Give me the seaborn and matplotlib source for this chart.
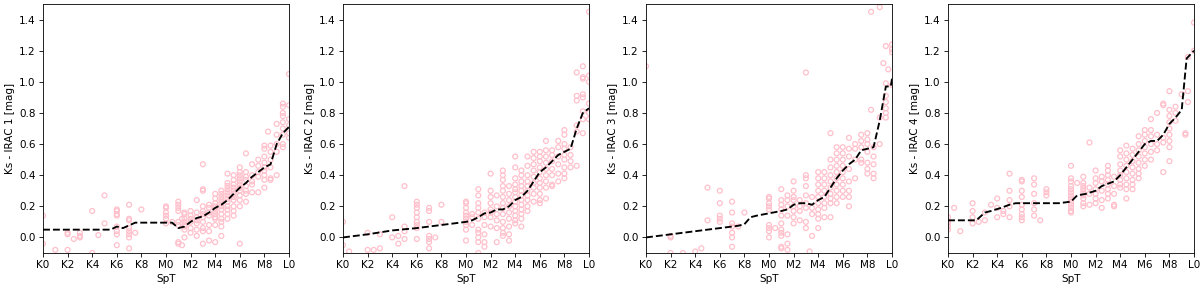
import numpy as np
import pandas as pd
import matplotlib
matplotlib.use('Agg')
import matplotlib.pyplot as plt
import seaborn as sns

# spectral type as number: K0=0 ... K9=9, M0=10 ... M9=19, L0=20
tick_pos = [0, 2, 4, 6, 8, 10, 12, 14, 16, 18, 20]
tick_labels = ['K0', 'K2', 'K4', 'K6', 'K8', 'M0', 'M2', 'M4', 'M6', 'M8', 'L0']
ylabels = ['Ks - IRAC 1 [mag]', 'Ks - IRAC 2 [mag]', 'Ks - IRAC 3 [mag]', 'Ks - IRAC 4 [mag]']

# ---- IRAC 1 ----
irac1_spt = [0, 1, 2, 2.5, 3, 4, 4.5, 5, 6, 7, 7.5, 8, 10, 10.5, 11, 11.3, 11.5, 12, 12.5, 13, 13.5,
             14, 14.5, 15, 15.5, 16, 16.5, 17, 17.5, 18, 18.3, 18.5, 19, 19.5, 20]
irac1_vals = [[0.14, -0.04], [-0.08], [0.03, 0.02, -0.08], [-0.01], [0.03, 0.01, 0.0], [0.17, -0.1], [0.015],
              [0.27, 0.09], [0.18, 0.17, 0.15, 0.14, 0.07, 0.04, 0.02, -0.05],
              [0.21, 0.12, 0.11, 0.06, 0.04, 0.02, 0.0, -0.07], [0.03], [0.18],
              [0.2, 0.19, 0.16, 0.14, 0.12, 0.09], [0.1],
              [0.23, 0.21, 0.19, 0.17, 0.1, 0.08, -0.03, -0.04], [-0.05, 0.12],
              [0.16, 0.15, 0.12, 0.1, 0.08, 0.07, 0.05, 0.0], [0.17, 0.14, 0.12, 0.1, 0.06, 0.03],
              [0.24, 0.16, 0.13, 0.11, 0.09, 0.05, 0.01],
              [0.47, 0.31, 0.3, 0.2, 0.17, 0.15, 0.13, 0.1, 0.06, 0.04, -0.04],
              [0.21, 0.19, 0.16, 0.14, 0.08, 0.04, -0.02],
              [0.28, 0.25, 0.22, 0.2, 0.19, 0.17, 0.15, 0.13, 0.12, 0.08, -0.03],
              [0.3, 0.28, 0.26, 0.24, 0.22, 0.2, 0.18, 0.15, 0.12, 0.1, 0.07, 0.01],
              [0.41, 0.35, 0.33, 0.31, 0.29, 0.27, 0.25, 0.23, 0.2, 0.18, 0.15, 0.12],
              [0.4, 0.37, 0.34, 0.32, 0.3, 0.28, 0.26, 0.24, 0.2, 0.17, 0.14],
              [0.45, 0.42, 0.4, 0.38, 0.36, 0.34, 0.32, 0.3, 0.27, 0.24, 0.2, -0.04],
              [0.54, 0.42, 0.39, 0.37, 0.33, 0.3, 0.28, 0.23], [0.47, 0.4, 0.36, 0.34, 0.29],
              [0.5, 0.46, 0.42, 0.39, 0.29], [0.59, 0.57, 0.52, 0.48, 0.45, 0.43, 0.4, 0.37, 0.32], [0.68],
              [0.59, 0.55, 0.5, 0.45, 0.38, 0.37], [0.73, 0.66, 0.6, 0.55, 0.4],
              [0.86, 0.84, 0.8, 0.78, 0.74, 0.7, 0.66, 0.6, 0.58], [1.05, 0.85, 0.76, 0.72, 0.67, 0.64]]
irac1_trend_x = [0, 5.5, 6, 6.5, 7.5, 10.5, 11, 11.5, 12, 12.5, 13, 13.5, 14, 14.5, 15, 15.5, 16, 16.5,
                 17, 17.5, 18, 18.5, 19, 19.5, 20]
irac1_trend_y = [0.05, 0.05, 0.07, 0.06, 0.095, 0.095, 0.06, 0.07, 0.1, 0.125, 0.135, 0.16, 0.19, 0.21,
                 0.24, 0.28, 0.32, 0.35, 0.39, 0.42, 0.45, 0.47, 0.6, 0.67, 0.71]

# ---- IRAC 2 ----
irac2_spt = [0, 0.5, 2, 2.5, 3, 4, 4.5, 5, 6, 7, 7.5, 8, 10, 10.5, 11, 11.5, 12, 12.5, 13, 13.5, 14, 14.5,
             15, 15.5, 16, 16.5, 17, 17.5, 18, 18.5, 19, 19.5, 20]
irac2_vals = [[0.1, -0.05], [-0.09], [0.03, -0.08], [-0.08], [0.02, -0.07], [0.13, 0.0], [0.01, -0.04],
              [0.33, 0.07, 0.04, -0.01], [0.23, 0.21, 0.19, 0.16, 0.13, 0.1, 0.08, 0.06, -0.01],
              [0.19, 0.17, 0.1, 0.01, -0.01, -0.03, -0.07], [0.0], [0.21, 0.1],
              [0.23, 0.22, 0.19, 0.16, 0.14, 0.12, 0.1, 0.08, 0.05, -0.02], [0.15, 0.13, 0.08],
              [0.31, 0.27, 0.22, 0.19, 0.16, 0.12, 0.05, 0.03, 0.0, -0.03, -0.1],
              [0.16, 0.13, 0.08, 0.02, -0.03, -0.06], [0.41, 0.3, 0.26, 0.22, 0.18, 0.16, 0.13, 0.07],
              [0.27, 0.2, 0.15, 0.11, 0.06, -0.03],
              [0.43, 0.4, 0.37, 0.33, 0.3, 0.26, 0.22, 0.19, 0.15, 0.1, 0.06, 0.03, 0.01],
              [0.33, 0.28, 0.24, 0.2, 0.16, 0.12, 0.07, 0.02, -0.02],
              [0.52, 0.45, 0.38, 0.34, 0.31, 0.29, 0.26, 0.23, 0.2, 0.17, 0.14, 0.11, 0.09],
              [0.43, 0.4, 0.36, 0.33, 0.3, 0.27, 0.24, 0.21, 0.18, 0.15, 0.12, 0.07],
              [0.52, 0.46, 0.4, 0.36, 0.33, 0.3, 0.27, 0.24, 0.2, 0.17],
              [0.55, 0.51, 0.47, 0.43, 0.39, 0.35, 0.32, 0.28, 0.23],
              [0.55, 0.52, 0.49, 0.45, 0.42, 0.38, 0.35, 0.32, 0.28, 0.24, 0.22],
              [0.62, 0.56, 0.52, 0.48, 0.44, 0.4, 0.36, 0.32, 0.25], [0.56, 0.53, 0.49, 0.44, 0.4, 0.34, 0.33],
              [0.62, 0.58, 0.52, 0.47, 0.41, 0.36], [0.69, 0.66, 0.6, 0.57, 0.53, 0.5, 0.45, 0.41, 0.38],
              [0.58, 0.53, 0.49, 0.45], [1.06, 0.91, 0.88, 0.72, 0.68, 0.46],
              [1.1, 1.03, 1.02, 0.92, 0.9, 0.81, 0.76, 0.67], [1.45, 1.04, 1.0, 0.86, 0.8, 0.76]]
irac2_trend_x = [0, 2, 4, 6, 8, 10, 10.5, 11, 11.5, 12, 12.5, 13, 13.5, 14, 14.5, 15, 15.5, 16, 16.5, 17,
                 17.5, 18, 18.5, 19, 19.5, 20]
irac2_trend_y = [0.0, 0.02, 0.045, 0.06, 0.08, 0.1, 0.11, 0.13, 0.155, 0.16, 0.18, 0.18, 0.2, 0.24, 0.26,
                 0.3, 0.36, 0.42, 0.45, 0.49, 0.53, 0.55, 0.57, 0.7, 0.8, 0.83]

# ---- IRAC 3 ----
irac3_spt = [0, 2, 3, 4, 4.5, 5, 6, 7, 7.5, 8, 10, 10.5, 11, 11.5, 12, 12.5, 13, 13.3, 13.5, 14, 14.5, 15,
             15.5, 16, 16.5, 17, 17.5, 18, 18.3, 18.5, 19, 19.3, 19.5, 19.7, 20]
irac3_vals = [[1.1], [0.01, 0.0, -0.1], [-0.1], [-0.09], [-0.07], [0.32, 0.11], [0.3, 0.22, 0.14, 0.12, 0.1],
              [0.23, 0.16, 0.09, 0.07, 0.03, 0.0, -0.06], [0.07], [0.16],
              [0.26, 0.25, 0.22, 0.2, 0.18, 0.08, 0.06, 0.04, 0.0], [0.06],
              [0.31, 0.24, 0.21, 0.18, 0.14, 0.09, 0.05, 0.03, 0.01, -0.06, -0.07],
              [0.27, 0.24, 0.2, 0.14, 0.02, -0.04, -0.08], [0.36, 0.3, 0.26, 0.24, 0.2, 0.17, 0.13, 0.09],
              [0.24, 0.2, 0.17, 0.11], [1.06, 0.4, 0.38, 0.33, 0.27, 0.22, 0.19, 0.1, 0.06], [-0.09],
              [0.26, 0.19, 0.15, 0.01], [0.42, 0.38, 0.34, 0.3, 0.26, 0.22, 0.18, 0.15, 0.12, 0.06],
              [0.42, 0.38, 0.34, 0.3, 0.26, 0.22, 0.19, 0.13],
              [0.67, 0.5, 0.45, 0.4, 0.36, 0.32, 0.28, 0.25, 0.22, 0.13],
              [0.58, 0.54, 0.5, 0.46, 0.42, 0.38, 0.34, 0.3, 0.26, 0.22],
              [0.58, 0.54, 0.5, 0.46, 0.42, 0.38, 0.34, 0.3, 0.26],
              [0.64, 0.57, 0.52, 0.44, 0.36, 0.3, 0.26, 0.2], [0.6, 0.57, 0.5, 0.38],
              [0.66, 0.62, 0.58, 0.5, 0.48], [0.67, 0.63, 0.6, 0.55, 0.48, 0.44, 0.41], [1.45, 0.82],
              [0.58, 0.52, 0.47, 0.41, 0.38], [1.48, 0.77, 0.6], [1.12],
              [1.23, 0.99, 0.91, 0.87, 0.83, 0.8, 0.77], [1.08], [1.24, 1.21, 1.19, 0.98]]
irac3_trend_x = [0, 2, 4, 6, 7.5, 8, 8.5, 9, 10, 11, 11.5, 12, 12.5, 13, 13.5, 14, 14.5, 15, 15.5, 16,
                 16.5, 17, 17.5, 18, 18.5, 19, 19.5, 19.9, 20]
irac3_trend_y = [0.0, 0.02, 0.04, 0.06, 0.075, 0.085, 0.13, 0.14, 0.155, 0.17, 0.18, 0.21, 0.22, 0.22,
                 0.21, 0.24, 0.26, 0.32, 0.38, 0.43, 0.47, 0.5, 0.56, 0.57, 0.58, 0.75, 0.97, 0.97, 1.02]

# ---- IRAC 4 ----
irac4_spt = [0, 0.5, 1, 2, 2.5, 3, 3.5, 4, 4.5, 5, 6, 7, 7.5, 8, 10, 10.5, 11, 11.5, 12, 12.5, 13, 13.5,
             14, 14.5, 15, 15.5, 16, 16.5, 17, 17.5, 18, 18.5, 19, 19.3, 19.5, 20]
irac4_vals = [[0.13, 0.1, 0.09, 0.07, 0.05], [0.19], [0.04], [0.22, 0.17, 0.13, 0.09], [0.1], [0.16, 0.11],
              [0.21], [0.25, 0.19, 0.13], [0.17, 0.15], [0.41, 0.3, 0.24, 0.2, 0.13],
              [0.37, 0.36, 0.3, 0.26, 0.21, 0.18, 0.15, 0.13, 0.11], [0.38, 0.34, 0.28, 0.22, 0.18, 0.14],
              [0.11], [0.31, 0.29, 0.27],
              [0.46, 0.38, 0.36, 0.33, 0.31, 0.29, 0.27, 0.25, 0.23, 0.21, 0.19, 0.17, 0.16], [0.35],
              [0.39, 0.35, 0.33, 0.31, 0.29, 0.27, 0.25, 0.22, 0.2], [0.61, 0.32, 0.28, 0.21],
              [0.43, 0.38, 0.35, 0.31, 0.28, 0.25, 0.22], [0.39, 0.36, 0.3, 0.24, 0.19],
              [0.46, 0.43, 0.4, 0.37, 0.34, 0.31, 0.28, 0.25], [0.39, 0.33, 0.28, 0.21, 0.2],
              [0.56, 0.52, 0.47, 0.43, 0.4, 0.37, 0.34, 0.32],
              [0.59, 0.54, 0.5, 0.46, 0.42, 0.38, 0.34, 0.31, 0.25],
              [0.57, 0.53, 0.49, 0.45, 0.41, 0.37, 0.34, 0.31],
              [0.65, 0.6, 0.56, 0.52, 0.48, 0.44, 0.41, 0.38], [0.69, 0.66, 0.62, 0.58, 0.54, 0.5, 0.46],
              [0.76, 0.69, 0.65, 0.6, 0.55, 0.5], [0.8, 0.66, 0.6, 0.56], [0.86, 0.85, 0.64, 0.61, 0.42],
              [0.94, 0.82, 0.78, 0.74, 0.7, 0.66, 0.62, 0.58, 0.49], [0.84, 0.8, 0.75], [0.92],
              [0.67, 0.66], [1.16, 0.94, 0.87], [1.38, 1.2]]
irac4_trend_x = [0, 2.3, 3, 3.5, 4.3, 5, 5.5, 9, 10, 10.5, 11.2, 12, 12.5, 13.5, 14, 14.5, 15, 15.5, 16,
                 16.5, 17, 17.5, 18, 18.5, 19, 19.4, 20]
irac4_trend_y = [0.11, 0.11, 0.16, 0.17, 0.19, 0.21, 0.22, 0.22, 0.23, 0.27, 0.28, 0.3, 0.33, 0.36, 0.4,
                 0.45, 0.5, 0.55, 0.6, 0.62, 0.62, 0.66, 0.73, 0.77, 0.82, 1.15, 1.2]

panels = [
    (irac1_spt, irac1_vals, irac1_trend_x, irac1_trend_y),
    (irac2_spt, irac2_vals, irac2_trend_x, irac2_trend_y),
    (irac3_spt, irac3_vals, irac3_trend_x, irac3_trend_y),
    (irac4_spt, irac4_vals, irac4_trend_x, irac4_trend_y),
]

# 16 x 3.83 in at 75 dpi -> 1200 x 287 px
fig = plt.figure(figsize=(16, 287 / 75), dpi=75)
lefts = [43, 343, 646, 948]

for i, (spt, vals, tx, ty) in enumerate(panels):
    ax = fig.add_axes([lefts[i] / 1200, 34 / 287, 246 / 1200, 249 / 287])
    df = pd.DataFrame({'SpT': np.repeat(spt, [len(v) for v in vals]),
                       'color': [y for v in vals for y in v]})
    sns.scatterplot(data=df, x='SpT', y='color', ax=ax, marker='o', s=22,
                    facecolors='none', edgecolor='pink', linewidth=1.2)
    trend = pd.DataFrame({'SpT': tx, 'color': ty})
    sns.lineplot(data=trend, x='SpT', y='color', ax=ax, color='black', linestyle='--',
                 linewidth=1.8, estimator=None, sort=False)
    ax.set_xlim(0, 20)
    ax.set_ylim(-0.1, 1.5)
    ax.set_xticks(tick_pos)
    ax.set_xticklabels(tick_labels)
    ax.set_yticks([0.0, 0.2, 0.4, 0.6, 0.8, 1.0, 1.2, 1.4])
    ax.set_xlabel('SpT')
    ax.set_ylabel(ylabels[i])

plt.savefig('out.png', dpi=75)
